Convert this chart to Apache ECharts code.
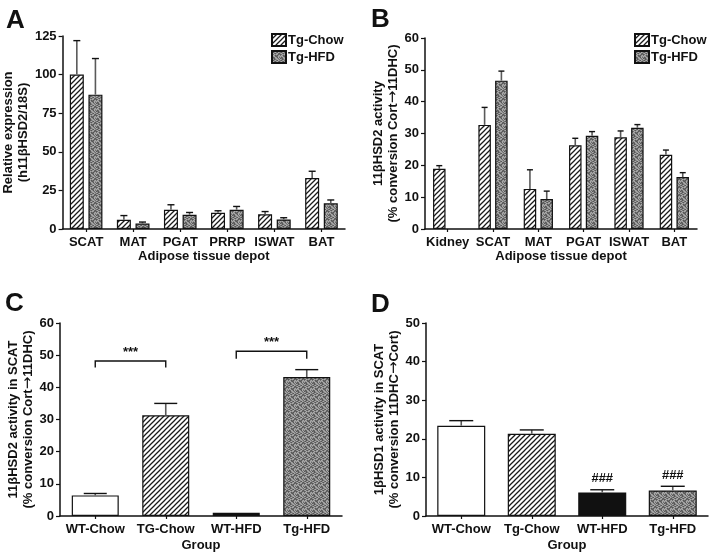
<!DOCTYPE html>
<html><head><meta charset="utf-8">
<script src="https://cdn.jsdelivr.net/npm/echarts@6/dist/echarts.min.js"></script>
<style>html,body{margin:0;padding:0;background:#fff}#c{width:714px;height:559px}</style>
</head><body><div id="c"></div>
<script>
// ---------- data ----------
const catsA = ['SCAT','MAT','PGAT','PRRP','ISWAT','BAT'];
const chowA = [100, 6, 12.5, 10.5, 9.5, 33];
const chowAUpper = [122, 8.7, 15.7, 11.8, 11.3, 37.4];
const hfdA = [87, 3.5, 9.2, 12.5, 6.2, 16.6];
const hfdAUpper = [110.4, 4.5, 10.7, 14.6, 7.3, 18.8];

const catsB = ['Kidney','SCAT','MAT','PGAT','ISWAT','BAT'];
const chowB = [18.9, 32.7, 12.6, 26.3, 28.8, 23.3];
const chowBUpper = [19.9, 38.2, 18.6, 28.5, 30.8, 24.8];
const hfdB = [null, 46.6, 9.4, 29.3, 31.8, 16.3];
const hfdBUpper = [null, 49.6, 11.9, 30.6, 32.8, 17.7];

const catsC = ['WT-Chow','TG-Chow','WT-HFD','Tg-HFD'];
const valC = [6.4, 31.3, 1.0, 43.2];
const upperC = [7.0, 35.0, null, 45.5];
const fillC = ['white','hatch','black','stipple'];
const bracketFromC = [0, 2];
const bracketToC = [1, 3];
const bracketLevelC = [48.2, 51.2];
const bracketFootC = [46.2, 48.9];
const starLevelC = [51.8, 54.8];
const starTextC = ['***', '***'];

const catsD = ['WT-Chow','Tg-Chow','WT-HFD','Tg-HFD'];
const valD = [23.4, 21.3, 6.1, 6.6];
const upperD = [24.7, 22.3, 6.8, 7.7];
const fillD = ['white','hatch','black','stipple'];
const markD = ['', '', '###', '###'];
const markLevelD = [null, null, 9.8, 10.6];

const ticksA = {min:0, max:125, interval:25};
const ticksB = {min:0, max:60, interval:10};
const ticksC = {min:0, max:60, interval:10};
const ticksD = {min:0, max:50, interval:10};

// ---------- patterns ----------
const FONT = 'Liberation Sans, Arial, Helvetica, sans-serif';
function hatchPattern(){
  const s = 5, c = document.createElement('canvas'); c.width = c.height = s;
  const g = c.getContext('2d');
  g.fillStyle = '#fff'; g.fillRect(0,0,s,s);
  g.strokeStyle = '#1a1a1a'; g.lineWidth = 1.25;
  g.beginPath();
  g.moveTo(0,s); g.lineTo(s,0);
  g.moveTo(-1,1); g.lineTo(1,-1);
  g.moveTo(s-1,s+1); g.lineTo(s+1,s-1);
  g.stroke();
  return c;
}
function stipplePattern(){
  const tile = [
    '21301210',
    '03120321',
    '12031203',
    '30212130',
    '02130312',
    '21203021',
    '13021320',
    '30312102'
  ];
  const pal = ['#6f6f6f','#8e8e8e','#ababab','#565656'];
  const c = document.createElement('canvas'); c.width = c.height = 8;
  const g = c.getContext('2d');
  for (let y=0;y<8;y++) for (let x=0;x<8;x++){
    g.fillStyle = pal[+tile[y][x]]; g.fillRect(x,y,1,1);
  }
  return c;
}
const FILLS = {
  white: '#ffffff',
  black: '#111111',
  hatch: {image: hatchPattern(), repeat: 'repeat'},
  stipple: {image: stipplePattern(), repeat: 'repeat'}
};

// ---------- helpers ----------
const axisLineStyle = {color:'#111', width:1.5};
function xAx(idx, cats, name, gap){
  return {type:'category', gridIndex:idx, data:cats, name:name, nameLocation:'middle', nameGap:gap,
    nameTextStyle:{fontFamily:FONT, fontWeight:'bold', fontSize:13, color:'#111'},
    axisLine:{lineStyle:axisLineStyle}, axisTick:{show:true, alignWithLabel:true, length:3, lineStyle:{color:'#111', width:1.2}},
    axisLabel:{fontFamily:FONT, fontWeight:'bold', fontSize:13, color:'#111', margin:7, interval:0}};
}
function yAx(idx, t, name, gap){
  return {type:'value', gridIndex:idx, min:t.min, max:t.max, interval:t.interval, name:name,
    nameLocation:'middle', nameGap:gap, nameRotate:90,
    nameTextStyle:{fontFamily:FONT, fontWeight:'bold', fontSize:13, color:'#111', lineHeight:15,
      rich:{ar:{fontFamily:'DejaVu Sans', fontWeight:'normal', fontSize:15, color:'#111', lineHeight:15}}},
    axisLine:{show:true, lineStyle:axisLineStyle}, axisTick:{show:true, length:4, lineStyle:{color:'#111', width:1.2}},
    splitLine:{show:false},
    axisLabel:{fontFamily:FONT, fontWeight:'bold', fontSize:13, color:'#111', margin:6}};
}
function errSeries(ax, means, uppers, offset, cap){
  const data = [];
  means.forEach((m,i)=>{ if (m != null && uppers[i] != null) data.push([i, m, uppers[i]]); });
  return {type:'custom', xAxisIndex:ax, yAxisIndex:ax, z:5, silent:true, data:data,
    encode:{x:0, y:[1,2]},
    renderItem:function(params, api){
      const i = api.value(0);
      const p0 = api.coord([i, api.value(1)]), p1 = api.coord([i, api.value(2)]);
      const x = p0[0] + offset;
      return {type:'group', children:[
        {type:'line', shape:{x1:x, y1:p0[1], x2:x, y2:p1[1]}, style:{stroke:'#5a5a5a', lineWidth:1.6}},
        {type:'line', shape:{x1:x-cap/2, y1:p1[1], x2:x+cap/2, y2:p1[1]}, style:{stroke:'#111', lineWidth:1.4}}
      ]};
    }};
}
const barBorder = {borderColor:'#111', borderWidth:1.2};
const legendText = {fontFamily:FONT, fontWeight:'bold', fontSize:13, color:'#111', padding:[0,0,0,-3]};

const option = {
  animation:false,
  backgroundColor:'#fff',
  textStyle:{fontFamily:FONT},
  grid:[
    {left:62, top:36, width:283, height:193},
    {left:425, top:38, width:272, height:191},
    {left:60, top:323, width:282, height:193},
    {left:426, top:323, width:282, height:193}
  ],
  xAxis:[
    xAx(0, catsA, 'Adipose tissue depot', 21),
    xAx(1, catsB, 'Adipose tissue depot', 21),
    xAx(2, catsC, 'Group', 23),
    xAx(3, catsD, 'Group', 23)
  ],
  yAxis:[
    yAx(0, ticksA, 'Relative expression\n(h11βHSD2/18S)', 23),
    yAx(1, ticksB, '11βHSD2 activity\n(% conversion Cort{ar|→}11DHC)', 23),
    yAx(2, ticksC, '11βHSD2 activity in SCAT\n(% conversion Cort{ar|→}11DHC)', 18),
    yAx(3, ticksD, '1βHSD1 activity in SCAT\n(% conversion 11DHC{ar|→}Cort)', 23)
  ],
  legend:[
    {left:271, top:33, padding:0, orient:'vertical', icon:'rect', itemWidth:14, itemHeight:12, itemGap:3, selectedMode:false,
     data:['Tg-Chow','Tg-HFD'], textStyle:legendText},
    {left:634, top:33, padding:0, orient:'vertical', icon:'rect', itemWidth:14, itemHeight:12, itemGap:3, selectedMode:false,
     data:['Tg-Chow','Tg-HFD'], textStyle:legendText}
  ],
  graphic:[
    {type:'text', left:6, top:8, style:{text:'A', font:'bold 26px '+FONT, fill:'#111'}},
    {type:'text', left:371, top:7, style:{text:'B', font:'bold 26px '+FONT, fill:'#111'}},
    {type:'text', left:5, top:291, style:{text:'C', font:'bold 26px '+FONT, fill:'#111'}},
    {type:'text', left:371, top:292, style:{text:'D', font:'bold 26px '+FONT, fill:'#111'}}
  ],
  series:[
    {name:'Tg-Chow', type:'bar', xAxisIndex:0, yAxisIndex:0, data:chowA, barWidth:14, barGap:'33%',
     itemStyle:Object.assign({color:FILLS.hatch}, barBorder)},
    {name:'Tg-HFD', type:'bar', xAxisIndex:0, yAxisIndex:0, data:hfdA, barWidth:14, barGap:'33%',
     itemStyle:Object.assign({color:FILLS.stipple}, barBorder)},
    errSeries(0, chowA, chowAUpper, -9.3, 7),
    errSeries(0, hfdA, hfdAUpper, 9.3, 7),

    {name:'Tg-Chow', type:'bar', xAxisIndex:1, yAxisIndex:1, data:chowB, barWidth:12.5, barGap:'34%',
     itemStyle:Object.assign({color:FILLS.hatch}, barBorder)},
    {name:'Tg-HFD', type:'bar', xAxisIndex:1, yAxisIndex:1, data:hfdB, barWidth:12.5, barGap:'34%',
     itemStyle:Object.assign({color:FILLS.stipple}, barBorder)},
    errSeries(1, chowB, chowBUpper, -8.4, 6),
    errSeries(1, hfdB, hfdBUpper, 8.4, 6),

    {type:'bar', xAxisIndex:2, yAxisIndex:2, barWidth:47,
     data:valC.map((v,i)=>({value:v, itemStyle:Object.assign({color:FILLS[fillC[i]]}, barBorder)}))},
    errSeries(2, valC, upperC, 0, 23),
    {type:'custom', xAxisIndex:2, yAxisIndex:2, z:6, silent:true,
     data:bracketFromC.map((f,k)=>[f, bracketLevelC[k], bracketToC[k], bracketFootC[k], starLevelC[k]]),
     encode:{x:[0,2], y:[1,3,4]},
     renderItem:function(params, api){
       const a = api.coord([api.value(0), api.value(1)]);
       const b = api.coord([api.value(2), api.value(1)]);
       const footY = api.coord([api.value(0), api.value(3)])[1];
       const starY = api.coord([api.value(0), api.value(4)])[1];
       return {type:'group', children:[
         {type:'polyline', shape:{points:[[a[0],footY],[a[0],a[1]],[b[0],b[1]],[b[0],footY]]},
          style:{stroke:'#111', lineWidth:1.4, fill:null}},
         {type:'text', x:(a[0]+b[0])/2, y:starY+3,
          style:{text:starTextC[params.dataIndex], font:'bold 13px '+FONT, fill:'#111',
                 align:'center', verticalAlign:'middle', textAlign:'center', textVerticalAlign:'middle'}}
       ]};
     }},

    {type:'bar', xAxisIndex:3, yAxisIndex:3, barWidth:48,
     data:valD.map((v,i)=>({value:v, itemStyle:Object.assign({color:FILLS[fillD[i]]}, barBorder)}))},
    errSeries(3, valD, upperD, 0, 24),
    {type:'custom', xAxisIndex:3, yAxisIndex:3, z:6, silent:true,
     data:markLevelD.map((l,i)=>[i, l]).filter(d=>d[1]!=null),
     encode:{x:0, y:1},
     renderItem:function(params, api){
       const i = api.value(0);
       const p = api.coord([i, api.value(1)]);
       return {type:'text', x:p[0], y:p[1],
         style:{text:markD[i], font:'bold 13px '+FONT, fill:'#111',
                align:'center', verticalAlign:'middle', textAlign:'center', textVerticalAlign:'middle'}};
     }}
  ]
};
const chart = echarts.init(document.getElementById('c'), null, {renderer:'canvas'});
chart.setOption(option);
</script>
</body></html>
